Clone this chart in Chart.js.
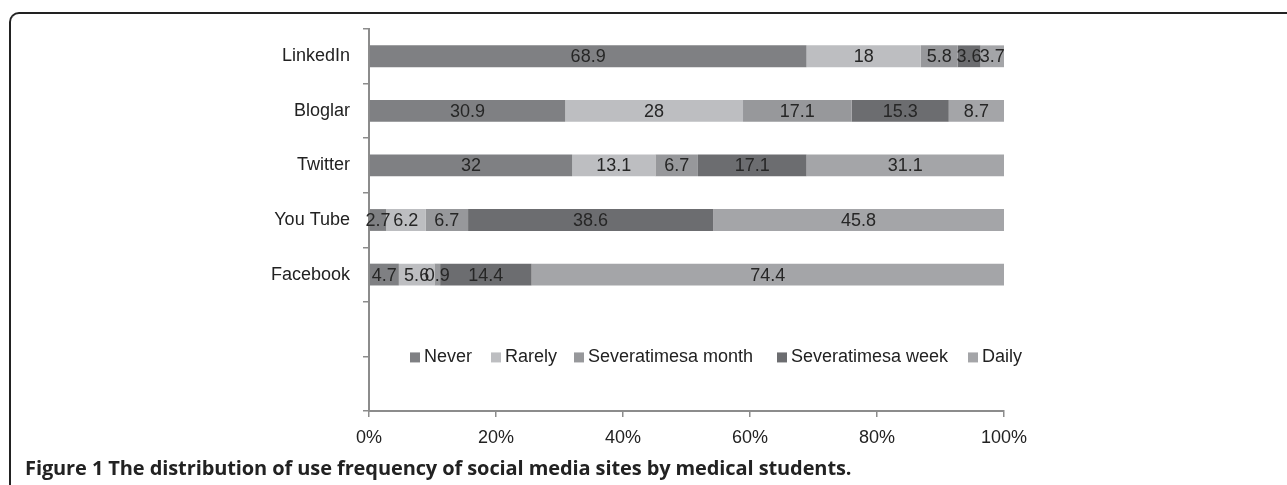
<!DOCTYPE html>
<html>
<head>
<meta charset="utf-8">
<script src="https://cdn.jsdelivr.net/npm/chart.js@4"></script>
<style>
  html, body { margin: 0; padding: 0; background: #fff; }
  body { width: 1287px; height: 485px; position: relative; overflow: hidden; }
  #frame {
    position: absolute; left: 9px; top: 12px; width: 1300px; height: 500px;
    border-top: 2px solid #222; border-left: 2px solid #222;
    border-top-left-radius: 10px; box-sizing: border-box;
  }
  #wrap { position: absolute; left: 0; top: 0; width: 1287px; height: 485px; }
  #caption {
    position: absolute; left: 25px; top: 454px;
    font-family: "Open Sans", sans-serif; font-weight: bold; font-size: 20px;
    color: #222; white-space: nowrap; letter-spacing: -0.1px;
  }
</style>
</head>
<body>
<div id="frame"></div>
<div id="wrap"><canvas id="chart" width="1287" height="485"></canvas></div>
<div id="caption">Figure 1 The distribution of use frequency of social media sites by medical students.</div>
<script>
// categories (two empty rows at the bottom hold the legend, like the original)
var sites = ['LinkedIn', 'Bloglar', 'Twitter', 'You Tube', 'Facebook', '', ''];
var seriesNames = ['Never', 'Rarely', 'Severatimesa month', 'Severatimesa week', 'Daily'];

// percentages per site, same order as sites
var never = [68.9, 30.9, 32, 2.7, 4.7];
var rarely = [18, 28, 13.1, 6.2, 5.6];
var perMonth = [5.8, 17.1, 6.7, 6.7, 0.9];
var perWeek = [3.6, 15.3, 17.1, 38.6, 14.4];
var daily = [3.7, 8.7, 31.1, 45.8, 74.4];

var xTicks = [0, 20, 40, 60, 80, 100];

var colors = ['#7f8083', '#bdbec1', '#97989b', '#6c6d70', '#a4a5a8'];
var seriesData = [never, rarely, perMonth, perWeek, daily];

var FONT = '"Liberation Sans", Arial, sans-serif';

// values printed in the middle of each segment
var segmentLabels = {
    id: 'segmentLabels',
    afterDatasetsDraw: function(chart) {
        var ctx = chart.ctx;
        ctx.save();
        ctx.font = '18px ' + FONT;
        ctx.fillStyle = '#262626';
        ctx.textAlign = 'center';
        ctx.textBaseline = 'middle';
        chart.data.datasets.forEach(function(ds, i) {
            var meta = chart.getDatasetMeta(i);
            meta.data.forEach(function(bar, j) {
                var p = bar.getCenterPoint();
                ctx.fillText(String(ds.data[j]), p.x, p.y + 1);
            });
        });
        ctx.restore();
    }
};

// legend sits inside the plot, on the boundary of the two empty rows
var innerLegend = {
    id: 'innerLegend',
    afterDraw: function(chart) {
        var ctx = chart.ctx;
        var area = chart.chartArea;
        var y = chart.scales.y.getPixelForValue(5.5);
        var offsets = [41, 122, 205, 408, 599];
        ctx.save();
        ctx.font = '18px ' + FONT;
        ctx.textBaseline = 'middle';
        ctx.textAlign = 'left';
        chart.data.datasets.forEach(function(ds, i) {
            var x = area.left + offsets[i];
            ctx.fillStyle = ds.backgroundColor;
            ctx.fillRect(x, y - 4, 10, 10);
            ctx.fillStyle = '#222';
            ctx.fillText(ds.label, x + 14, y + 1);
        });
        ctx.restore();
    }
};

var datasets = seriesNames.map(function(name, i) {
    return {
        label: name,
        data: seriesData[i],
        backgroundColor: colors[i],
        borderWidth: 0,
        categoryPercentage: 1,
        barPercentage: 0.4
    };
});

new Chart(document.getElementById('chart'), {
    type: 'bar',
    data: { labels: sites, datasets: datasets },
    plugins: [segmentLabels, innerLegend],
    options: {
        indexAxis: 'y',
        responsive: false,
        animation: false,
        layout: { padding: { left: 0, right: 283, top: 29, bottom: 0 } },
        plugins: {
            legend: { display: false },
            tooltip: { enabled: false }
        },
        scales: {
            x: {
                stacked: true,
                min: 0,
                max: 100,
                afterBuildTicks: function(scale) {
                    scale.ticks = xTicks.map(function(v) { return { value: v }; });
                },
                afterFit: function(scale) { scale.height = 74; },
                ticks: {
                    callback: function(v) { return v + '%'; },
                    font: { family: FONT, size: 18 },
                    color: '#222',
                    padding: 10,
                    maxRotation: 0
                },
                grid: {
                    drawOnChartArea: false,
                    tickLength: 6,
                    color: '#8c8c8c',
                    lineWidth: 1.5
                },
                border: { color: '#8c8c8c', width: 2 }
            },
            y: {
                stacked: true,
                afterFit: function(scale) { scale.width = 369; },
                ticks: {
                    font: { family: FONT, size: 18 },
                    color: '#222',
                    padding: 13
                },
                grid: {
                    offset: true,
                    drawOnChartArea: false,
                    tickLength: 6,
                    color: '#8c8c8c',
                    lineWidth: 1.5
                },
                border: { color: '#8c8c8c', width: 2 }
            }
        }
    }
});
</script>
</body>
</html>
